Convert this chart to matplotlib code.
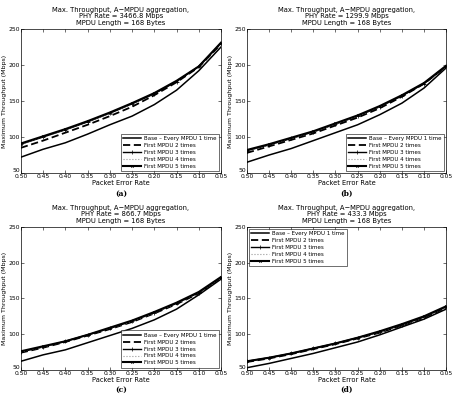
import matplotlib
matplotlib.use("Agg")
import matplotlib.pyplot as plt
import numpy as np

per = [0.50, 0.45, 0.40, 0.35, 0.30, 0.25, 0.20, 0.15, 0.10, 0.05]

phy_rates = ["3466.8", "1299.9", "866.7", "433.3"]
panel_labels = ["(a)", "(b)", "(c)", "(d)"]

# Panel (a)
a_base = [72, 83, 92, 104, 117, 129, 145, 165, 192, 225]
a_two = [85, 95, 106, 117, 129, 142, 158, 176, 197, 229]
a_three = [90, 100, 110, 121, 133, 146, 160, 177, 198, 230]
a_four = [90, 100, 110, 121, 133, 146, 161, 178, 198, 230]
a_five = [91, 101, 111, 122, 134, 147, 161, 178, 198, 231]

# Panel (b)
b_base = [65, 75, 84, 95, 106, 117, 131, 147, 168, 196]
b_two = [78, 87, 96, 105, 116, 127, 140, 156, 174, 198]
b_three = [81, 89, 98, 107, 118, 129, 142, 157, 174, 198]
b_four = [81, 89, 98, 107, 118, 129, 142, 158, 175, 198]
b_five = [82, 90, 99, 108, 119, 130, 143, 158, 175, 199]

# Panel (c)
c_base = [62, 71, 78, 88, 98, 108, 120, 135, 155, 177]
c_two = [74, 81, 89, 98, 107, 117, 129, 142, 157, 179]
c_three = [75, 82, 90, 99, 108, 118, 130, 143, 158, 179]
c_four = [75, 82, 90, 99, 108, 118, 130, 143, 158, 179]
c_five = [76, 83, 90, 99, 109, 119, 131, 144, 159, 180]

# Panel (d)
d_base = [53, 59, 66, 73, 81, 89, 99, 110, 121, 135]
d_two = [61, 66, 72, 79, 86, 94, 102, 112, 123, 137]
d_three = [62, 67, 73, 80, 87, 95, 103, 113, 124, 138]
d_four = [62, 67, 73, 80, 87, 95, 103, 113, 124, 138]
d_five = [62, 67, 73, 80, 87, 95, 104, 114, 125, 139]

series_names = ["Base \u2013 Every MPDU 1 time", "First MPDU 2 times",
                "First MPDU 3 times", "First MPDU 4 times", "First MPDU 5 times"]

panels = [
    [a_base, a_two, a_three, a_four, a_five],
    [b_base, b_two, b_three, b_four, b_five],
    [c_base, c_two, c_three, c_four, c_five],
    [d_base, d_two, d_three, d_four, d_five],
]

styles = [
    dict(color="black", lw=1.1, ls="-"),
    dict(color="black", lw=1.3, ls=(0, (4, 2))),
    dict(color="black", lw=1.0, ls="-", marker="+", ms=2.2, mew=0.5),
    dict(color="#999999", lw=0.8, ls=":"),
    dict(color="black", lw=1.5, ls="-", marker="x", ms=1.8, mew=0.5),
]

plt.rcParams["font.family"] = ["DejaVu Sans"]
fig = plt.figure(figsize=(4.53, 3.96), dpi=100)

positions = [
    [0.046, 0.563, 0.442, 0.364],
    [0.545, 0.563, 0.440, 0.364],
    [0.046, 0.066, 0.442, 0.361],
    [0.545, 0.066, 0.440, 0.361],
]
legend_locs = ["lower right", "lower right", "lower right", "upper left"]

for i, (pos, data) in enumerate(zip(positions, panels)):
    ax = fig.add_axes(pos)
    for vals, st, name in zip(data, styles, series_names):
        ax.plot(per, vals, label=name, **st)
    ax.set_xlim(0.50, 0.05)
    ax.set_ylim(50, 250)
    ax.set_xticks(per)
    ax.set_xticklabels([f"{v:.2f}" for v in per])
    ax.set_yticks([50, 100, 150, 200, 250])
    ax.tick_params(direction="in", top=True, right=True, labelsize=4.3,
                   length=2, width=0.4, pad=0.8)
    fig.canvas.draw()
    ax.get_yticklabels()[0].set_verticalalignment("bottom")
    for s in ax.spines.values():
        s.set_linewidth(0.5)
    ax.set_title("Max. Throughput, A\u2212MPDU aggregation,\nPHY Rate = %s Mbps\nMPDU Length = 168 Bytes" % phy_rates[i],
                 fontsize=4.9, pad=3, linespacing=1.05)
    ax.set_ylabel("Maximum Throughput (Mbps)", fontsize=4.5, labelpad=1)
    ax.set_xlabel("Packet Error Rate", fontsize=4.8, labelpad=0.5)
    ax.text(0.5, -0.115, panel_labels[i], transform=ax.transAxes, ha="center",
            va="top", fontsize=5.5, family="DejaVu Serif", fontweight="bold")
    leg = ax.legend(loc=legend_locs[i], fontsize=4.0, frameon=True, fancybox=False,
                    edgecolor="black", handlelength=3.2, borderpad=0.4,
                    labelspacing=0.35, handletextpad=0.6, borderaxespad=0.4)
    leg.get_frame().set_linewidth(0.5)

fig.savefig("out.png", dpi=100)
